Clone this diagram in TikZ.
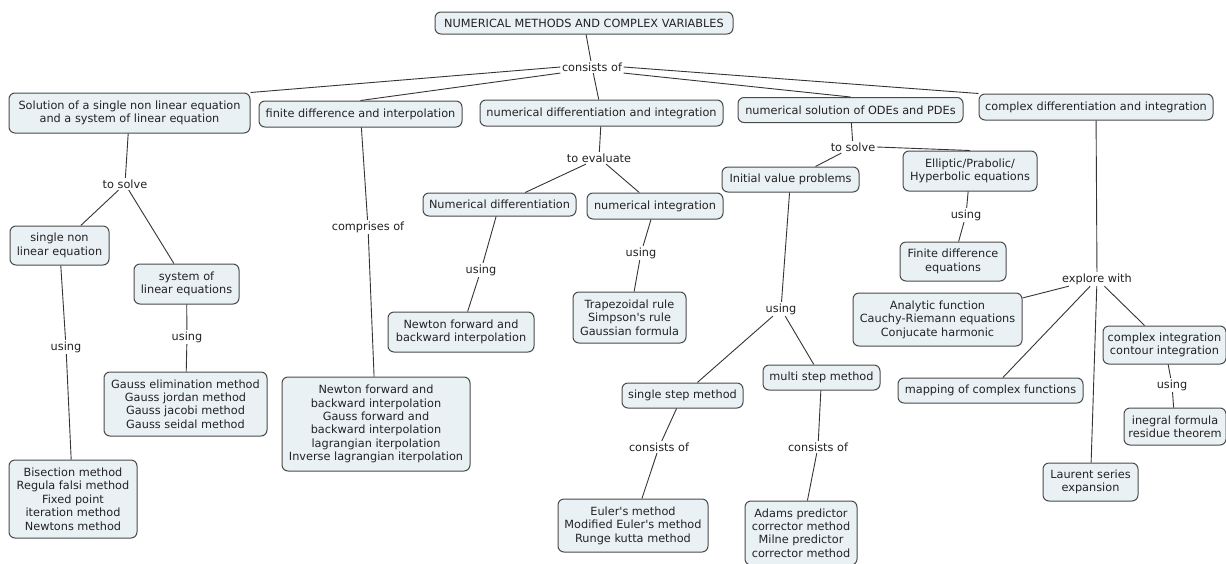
\documentclass[tikz,border=0pt]{standalone}
\usepackage{fontspec}
\setmainfont{DejaVu Sans}[Ligatures=TeXOff]
\definecolor{boxc}{HTML}{EAF1F5}
\definecolor{bordc}{HTML}{4A4A4A}
\definecolor{linec}{HTML}{353535}
\definecolor{txtc}{HTML}{222222}
\tikzset{
  box/.style={draw=bordc, fill=boxc, rounded corners=6pt, line width=1pt, align=center,
    inner sep=2pt, text=txtc, font=\fontsize{11.3}{13.4}\selectfont},
  lab/.style={inner sep=1.5pt, text=txtc, font=\fontsize{11.3}{13.4}\selectfont},
  con/.style={draw=linec, line width=0.9pt}
}
\begin{document}
\begin{tikzpicture}[x=1pt,y=-1pt]
\useasboundingbox[fill=white] (0,0) rectangle (1226,563);
% top level
\node[box, minimum width=298, minimum height=22] (root) at (584,23) {NUMERICAL METHODS AND COMPLEX VARIABLES};
\node[lab] (cons) at (592,67) {consists of};
\node[box, minimum width=241, minimum height=40] (sol) at (129.5,113) {Solution of a single non linear equation\\and a system of linear equation};
\node[box, minimum width=203, minimum height=26] (fd) at (360.5,114) {finite difference and interpolation};
\node[box, minimum width=243, minimum height=26] (nd) at (601.5,113) {numerical differentiation and integration};
\node[box, minimum width=225, minimum height=25] (ode) at (850.5,110) {numerical solution of ODEs and PDEs};
\node[box, minimum width=234, minimum height=26] (cx) at (1096,107) {complex differentiation and integration};
% branch 1
\node[lab] (ts1) at (125,184) {to solve};
\node[box, minimum width=99, minimum height=39] (sn) at (59.5,245.5) {single non\\linear equation};
\node[box, minimum width=105, minimum height=40] (sys) at (186.5,284) {system of\\linear equations};
\node[lab] (us1) at (66,347) {using};
\node[lab] (us2) at (187,337) {using};
\node[box, minimum width=163, minimum height=64] (gauss) at (185.5,404) {Gauss elimination method\\Gauss jordan method\\Gauss jacobi method\\Gauss seidal method};
\node[box, minimum width=128, minimum height=78] (bis) at (73,499) {Bisection method\\Regula falsi method\\Fixed point\\iteration method\\Newtons method};
% branch 2
\node[lab] (comp) at (368,227) {comprises of};
\node[box, minimum width=188, minimum height=94] (nfb) at (376,424) {Newton forward and\\backward interpolation\\Gauss forward and\\backward interpolation\\lagrangian iterpolation\\Inverse lagrangian iterpolation};
% branch 3
\node[lab] (te) at (599,158) {to evaluate};
\node[box, minimum width=153, minimum height=23] (ndiff) at (499.5,204.5) {Numerical differentiation};
\node[box, minimum width=136, minimum height=26] (nint) at (655,206) {numerical integration};
\node[lab] (us3) at (481,270) {using};
\node[box, minimum width=146, minimum height=40] (nfb2) at (461,332) {Newton forward and\\backward interpolation};
\node[lab] (us4) at (641,253) {using};
\node[box, minimum width=113, minimum height=51] (trap) at (629.5,317.5) {Trapezoidal rule\\Simpson's rule\\Gaussian formula};
% branch 4
\node[lab] (ts2) at (853,147) {to solve};
\node[box, minimum width=137, minimum height=25] (ivp) at (790.5,179.5) {Initial value problems};
\node[box, minimum width=134, minimum height=40] (ell) at (970,171) {Elliptic/Prabolic/\\Hyperbolic equations};
\node[lab] (us5) at (966,215) {using};
\node[box, minimum width=106, minimum height=39] (fde) at (953,261.5) {Finite difference\\equations};
\node[lab] (us6) at (781,309) {using};
\node[box, minimum width=121, minimum height=25] (ss) at (682.5,395.5) {single step method};
\node[box, minimum width=117, minimum height=25] (ms) at (821.5,377.5) {multi step method};
\node[lab] (co2) at (659,447) {consists of};
\node[lab] (co3) at (818,447) {consists of};
\node[box, minimum width=150, minimum height=53] (euler) at (633,525.5) {Euler's method\\Modified Euler's method\\Runge kutta method};
\node[box, minimum width=112, minimum height=64] (adams) at (801,533) {Adams predictor\\corrector method\\Milne predictor\\corrector method};
% branch 5
\node[lab] (ex) at (1097,279) {explore with};
\node[box, minimum width=169, minimum height=53] (an) at (937.5,319.5) {Analytic function\\Cauchy-Riemann equations\\Conjucate harmonic};
\node[box, minimum width=123, minimum height=38] (ci) at (1164.5,345) {complex integration\\contour integration};
\node[box, minimum width=185, minimum height=25] (map) at (990.5,390.5) {mapping of complex functions};
\node[lab] (us7) at (1172,385) {using};
\node[box, minimum width=102, minimum height=37] (inf) at (1175,426.5) {inegral formula\\residue theorem};
\node[box, minimum width=95, minimum height=38] (laur) at (1090.5,482) {Laurent series\\expansion};
% connectors
\draw[con] (root) -- (cons);
\draw[con] (cons.west) -- (sol.north east);
\draw[con] (cons.south west) -- (fd.north);
\draw[con] (cons) -- (nd);
\draw[con] (cons.south east) -- (ode.north);
\draw[con] (cons.east) -- (cx.north west);
\draw[con] (sol) -- (ts1);
\draw[con] (ts1) -- (sn);
\draw[con] (ts1) -- (sys);
\draw[con] (sn) -- (us1);
\draw[con] (us1) -- (bis);
\draw[con] (sys) -- (us2);
\draw[con] (us2) -- (gauss);
\draw[con] (fd) -- (comp);
\draw[con] (comp) -- (nfb);
\draw[con] (nd) -- (te);
\draw[con] (te) -- (ndiff);
\draw[con] (te) -- (nint);
\draw[con] (ndiff) -- (us3);
\draw[con] (us3) -- (nfb2);
\draw[con] (nint) -- (us4);
\draw[con] (us4) -- (trap);
\draw[con] (ode) -- (ts2);
\draw[con] (ts2) -- (ivp);
\draw[con] (ts2.east) -- (ell.north);
\draw[con] (ell) -- (us5);
\draw[con] (us5) -- (fde);
\draw[con] (ivp) -- (us6);
\draw[con] (us6) -- (ss);
\draw[con] (us6) -- (ms);
\draw[con] (ss) -- (co2);
\draw[con] (co2) -- (euler);
\draw[con] (ms) -- (co3);
\draw[con] (co3) -- (adams);
\draw[con] (cx) -- (ex);
\draw[con] (ex) -- (laur);
\draw[con] (ex) -- (an);
\draw[con] (ex) -- (map);
\draw[con] (ex) -- (ci);
\draw[con] (ci) -- (us7);
\draw[con] (us7) -- (inf);
\end{tikzpicture}
\end{document}
